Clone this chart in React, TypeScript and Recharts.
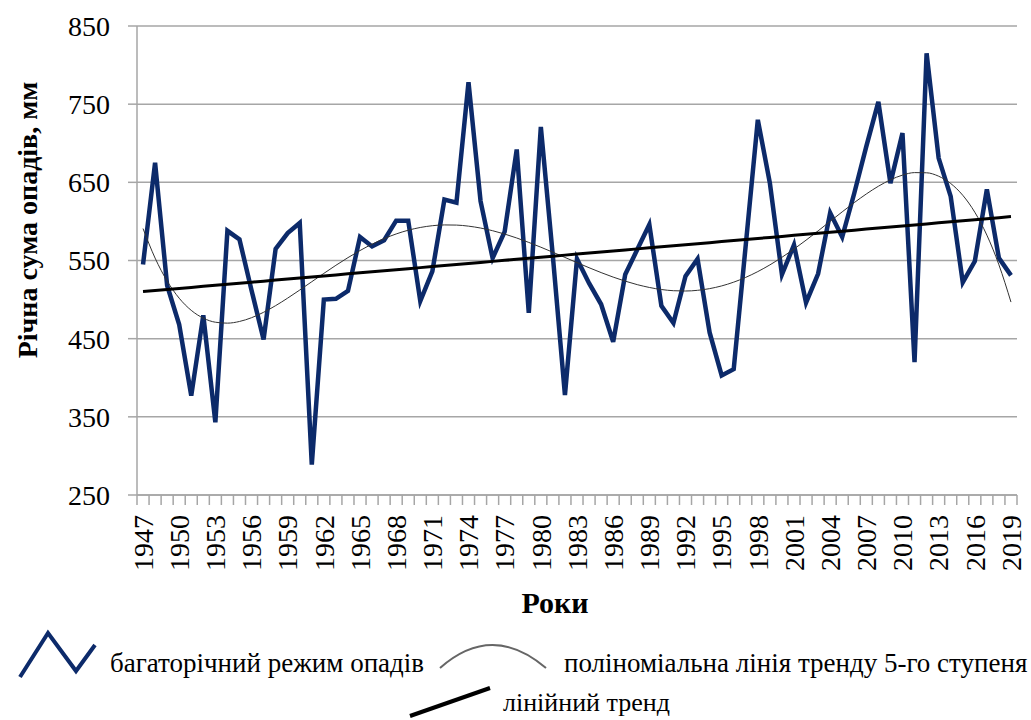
import { LineChart, Line, XAxis, YAxis, CartesianGrid } from 'recharts';

document.body.style.margin = '0';

// роки спостережень
const years = [
  1947, 1948, 1949, 1950, 1951, 1952, 1953, 1954, 1955, 1956, 1957, 1958, 1959,
  1960, 1961, 1962, 1963, 1964, 1965, 1966, 1967, 1968, 1969, 1970, 1971, 1972,
  1973, 1974, 1975, 1976, 1977, 1978, 1979, 1980, 1981, 1982, 1983, 1984, 1985,
  1986, 1987, 1988, 1989, 1990, 1991, 1992, 1993, 1994, 1995, 1996, 1997, 1998,
  1999, 2000, 2001, 2002, 2003, 2004, 2005, 2006, 2007, 2008, 2009, 2010, 2011,
  2012, 2013, 2014, 2015, 2016, 2017, 2018, 2019,
];

// річна сума опадів, мм
const precipitation = [
  545, 675, 518, 468, 377, 480, 343, 588, 577, 512, 449, 565, 585,
  598, 289, 500, 501, 511, 580, 568, 576, 601, 601, 498, 536, 628,
  624, 778, 626, 553, 587, 692, 483, 721, 555, 378, 552, 521, 494,
  446, 532, 564, 596, 492, 470, 530, 552, 458, 403, 411, 570, 730,
  649, 532, 570, 496, 533, 611, 580, 636, 696, 753, 649, 713, 420,
  815, 681, 632, 522, 549, 641, 553, 531,
];

const yTicks = [250, 350, 450, 550, 650, 750, 850];

const NAVY = '#0c2a6a';
const GRID = '#a6a6a6';
const FONT = '"Liberation Serif", "Times New Roman", serif';

// least squares polynomial fit (like Excel trendline)
function polyFit(ys: number[], deg: number): number[] {
  const n = ys.length;
  const c = (n - 1) / 2;
  const ts = ys.map((_, i) => (i - c) / c);
  const m = deg + 1;
  const A: number[][] = Array.from({ length: m }, () => new Array(m + 1).fill(0));
  for (let k = 0; k < n; k++) {
    const p: number[] = [];
    for (let j = 0; j < m; j++) p[j] = Math.pow(ts[k], j);
    for (let r = 0; r < m; r++) {
      for (let s = 0; s < m; s++) A[r][s] += p[r] * p[s];
      A[r][m] += p[r] * ys[k];
    }
  }
  for (let col = 0; col < m; col++) {
    let piv = col;
    for (let r = col + 1; r < m; r++) if (Math.abs(A[r][col]) > Math.abs(A[piv][col])) piv = r;
    [A[col], A[piv]] = [A[piv], A[col]];
    for (let r = 0; r < m; r++) {
      if (r === col) continue;
      const f = A[r][col] / A[col][col];
      for (let s = col; s <= m; s++) A[r][s] -= f * A[col][s];
    }
  }
  const coef = A.map((row, i) => row[m] / row[i]);
  return ts.map((t) => coef.reduce((acc, a, j) => acc + a * Math.pow(t, j), 0));
}

const poly5 = polyFit(precipitation, 5);
const linear = polyFit(precipitation, 1);

const chartData = years.map((year, i) => ({
  year,
  value: precipitation[i],
  poly: poly5[i],
  lin: linear[i],
}));

const PLOT_W = 880;
const HALF_STEP = PLOT_W / years.length / 2;

// підписи осі X: мітки між категоріями, текст кожні 3 роки
const YearTick = (props: any) => {
  const { x, y, payload } = props;
  const index = payload?.index ?? props.index ?? 0;
  const last = index === years.length - 1;
  return (
    <g>
      <line x1={x - HALF_STEP} x2={x - HALF_STEP} y1={y} y2={y + 10} stroke={GRID} strokeWidth={1.5} />
      {last && (
        <line x1={x + HALF_STEP} x2={x + HALF_STEP} y1={y} y2={y + 10} stroke={GRID} strokeWidth={1.5} />
      )}
      {index % 3 === 0 && (
        <text
          x={x}
          y={y + 20}
          dy="0.35em"
          transform={`rotate(-90, ${x}, ${y + 20})`}
          textAnchor="end"
          fontSize={28}
          fontFamily={FONT}
          fill="#000"
        >
          {payload.value}
        </text>
      )}
    </g>
  );
};

export default function App() {
  return (
    <div style={{ position: 'relative', width: 1031, height: 720, background: '#fff', fontFamily: FONT }}>
      <LineChart
        width={1031}
        height={720}
        data={chartData}
        margin={{ top: 26, right: 14, left: 0, bottom: 125 }}
      >
        <CartesianGrid vertical={false} stroke={GRID} strokeWidth={1.5} />
        <XAxis
          dataKey="year"
          interval={0}
          height={100}
          padding={{ left: HALF_STEP, right: HALF_STEP }}
          tick={<YearTick />}
          tickLine={false}
          tickSize={0}
          tickMargin={0}
          axisLine={{ stroke: GRID, strokeWidth: 1.5 }}
        />
        <YAxis
          width={137}
          domain={[250, 850]}
          ticks={yTicks}
          interval={0}
          tick={{ fontSize: 28, fill: '#000', fontFamily: FONT }}
          tickSize={9}
          tickMargin={18}
          tickLine={{ stroke: GRID, strokeWidth: 1.5 }}
          axisLine={{ stroke: GRID, strokeWidth: 1.5 }}
        />
        <Line
          type="linear"
          dataKey="value"
          stroke={NAVY}
          strokeWidth={4.5}
          dot={false}
          isAnimationActive={false}
        />
        <Line
          type="monotone"
          dataKey="poly"
          stroke="#333"
          strokeWidth={1}
          dot={false}
          isAnimationActive={false}
        />
        <Line
          type="linear"
          dataKey="lin"
          stroke="#000"
          strokeWidth={3}
          dot={false}
          isAnimationActive={false}
        />
      </LineChart>

      <svg
        width={1031}
        height={720}
        style={{ position: 'absolute', left: 0, top: 0, pointerEvents: 'none' }}
        fontFamily={FONT}
      >
        <text
          x={27}
          y={220}
          dy="0.35em"
          transform="rotate(-90, 27, 220)"
          textAnchor="middle"
          fontSize={28}
          fontWeight="bold"
          fill="#000"
        >
          Річна сума опадів, мм
        </text>
        <text x={555} y={613} textAnchor="middle" fontSize={30} fontWeight="bold" fill="#000">
          Роки
        </text>

        {/* легенда */}
        <polyline points="20,677 48,633 76,671 95,645" fill="none" stroke={NAVY} strokeWidth={4} />
        <text x={110} y={672} fontSize={27} fill="#000">
          багаторічний режим опадів
        </text>
        <path d="M440,668 Q492,622 546,668" fill="none" stroke="#666" strokeWidth={2} />
        <text x={564} y={672} fontSize={27} fill="#000">
          поліноміальна лінія тренду 5-го ступеня
        </text>
        <line x1={410} y1={716} x2={490} y2={688} stroke="#000" strokeWidth={4} />
        <text x={503} y={711} fontSize={26} fill="#000">
          лінійний тренд
        </text>
      </svg>
    </div>
  );
}
